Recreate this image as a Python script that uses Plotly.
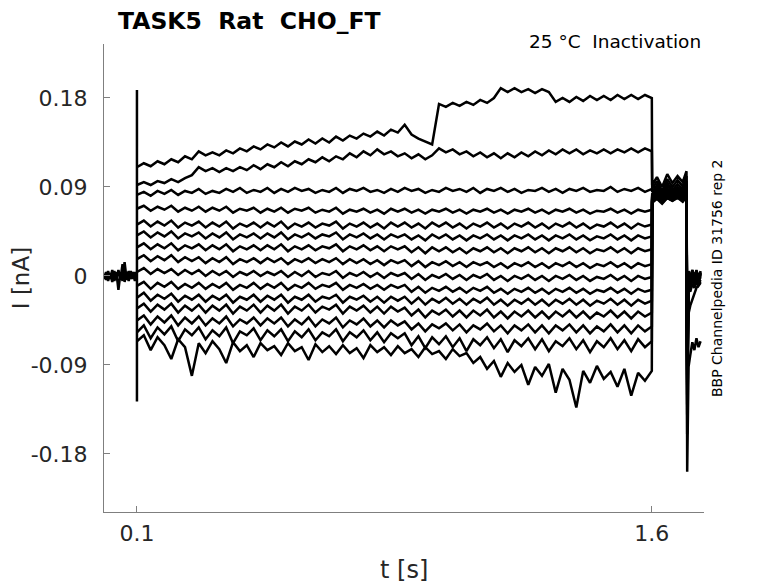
import plotly.graph_objects as go

# sample times (s)
hold_t = [0.004, 0.01, 0.016, 0.022, 0.028, 0.034, 0.04, 0.046, 0.052, 0.058,
          0.064, 0.07, 0.076, 0.082, 0.088, 0.094, 0.099]
step_t = [0.10, 0.12, 0.14, 0.16, 0.18, 0.20, 0.22, 0.24, 0.26, 0.28,
          0.30, 0.32, 0.34, 0.36, 0.38, 0.40, 0.42, 0.44, 0.46, 0.48,
          0.50, 0.52, 0.54, 0.56, 0.58, 0.60, 0.62, 0.64, 0.66, 0.68,
          0.70, 0.72, 0.74, 0.76, 0.78, 0.80, 0.82, 0.84, 0.86, 0.88,
          0.90, 0.92, 0.94, 0.96, 0.98, 1.00, 1.02, 1.04, 1.06, 1.08,
          1.10, 1.12, 1.14, 1.16, 1.18, 1.20, 1.22, 1.24, 1.26, 1.28,
          1.30, 1.32, 1.34, 1.36, 1.38, 1.40, 1.42, 1.44, 1.46, 1.48,
          1.50, 1.52, 1.54, 1.56, 1.58, 1.60]
post_t = [1.601, 1.615, 1.63, 1.645, 1.66, 1.675, 1.69, 1.701]
tail_t = [1.703, 1.707, 1.712, 1.718, 1.724, 1.73, 1.736, 1.742]

# currents in pA (converted to nA below)
hold_a = [2, -4, 5, -3, 6, -5, 4, -14, 3, -5, 14, -4, 5, -3, 4, -5, 2]
hold_b = [-3, 4, -5, 3, -6, 5, -4, 6, -3, 12, -6, 4, -5, 5, -3, 4, -2]
onset_peak = [188, -127]

sweep_01 = [110, 114, 111, 116, 113, 118, 115, 121, 118, 126,
            122, 125, 122, 127, 124, 129, 126, 131, 128, 133,
            130, 135, 131, 136, 133, 138, 134, 139, 135, 141,
            137, 142, 139, 144, 141, 146, 142, 148, 145, 153,
            143, 139, 136, 133, 174, 171, 175, 172, 176, 173,
            178, 175, 180, 190, 186, 190, 186, 189, 185, 189,
            186, 176, 180, 176, 181, 177, 182, 178, 182, 178,
            183, 179, 183, 179, 183, 180]
sweep_02 = [92, 95, 92, 96, 94, 98, 95, 99, 102, 110,
            106, 109, 105, 109, 106, 110, 107, 112, 108, 113,
            110, 115, 111, 116, 113, 118, 115, 120, 116, 121,
            118, 124, 120, 126, 122, 128, 123, 126, 121, 124,
            119, 123, 118, 122, 129, 125, 128, 123, 126, 121,
            125, 120, 124, 119, 124, 120, 125, 121, 126, 122,
            127, 123, 128, 124, 128, 123, 127, 124, 128, 124,
            128, 125, 129, 125, 129, 126]
sweep_03 = [82, 85, 81, 86, 83, 87, 82, 86, 84, 88,
            83, 86, 84, 88, 85, 89, 84, 87, 85, 89,
            84, 88, 85, 89, 86, 88, 84, 87, 85, 89,
            84, 88, 86, 89, 85, 87, 84, 88, 85, 89,
            86, 88, 84, 87, 85, 89, 86, 88, 85, 89,
            84, 88, 86, 89, 85, 88, 84, 87, 86, 89,
            85, 88, 84, 88, 86, 89, 85, 87, 86, 90,
            85, 88, 86, 89, 85, 88]
sweep_04 = [68, 71, 66, 70, 67, 71, 65, 69, 66, 70,
            65, 69, 66, 70, 64, 68, 66, 69, 64, 68,
            65, 69, 64, 68, 66, 69, 64, 67, 65, 69,
            63, 67, 65, 68, 64, 67, 63, 68, 65, 68,
            64, 67, 63, 67, 65, 68, 64, 67, 63, 67,
            65, 68, 64, 67, 63, 67, 65, 68, 64, 67,
            63, 67, 65, 68, 64, 67, 63, 66, 65, 68,
            64, 67, 63, 67, 65, 67]
sweep_05 = [52, 56, 50, 55, 51, 56, 49, 54, 51, 55,
            49, 54, 50, 55, 48, 53, 50, 54, 49, 54,
            50, 55, 48, 53, 50, 54, 49, 53, 51, 55,
            48, 53, 50, 54, 49, 53, 48, 54, 50, 54,
            49, 53, 48, 54, 50, 54, 49, 53, 48, 53,
            50, 54, 49, 53, 48, 53, 50, 54, 49, 53,
            48, 53, 50, 54, 49, 53, 48, 52, 50, 54,
            49, 53, 48, 53, 50, 52]
sweep_06 = [41, 45, 39, 44, 40, 45, 38, 43, 40, 44,
            38, 43, 39, 44, 37, 42, 39, 43, 38, 43,
            39, 44, 37, 42, 39, 43, 38, 42, 40, 44,
            37, 42, 39, 43, 38, 42, 37, 42, 39, 42,
            37, 41, 36, 42, 38, 42, 37, 41, 36, 41,
            38, 42, 37, 41, 36, 41, 38, 42, 37, 41,
            36, 41, 38, 42, 37, 41, 36, 40, 38, 42,
            37, 41, 36, 41, 38, 40]
sweep_07 = [29, 33, 27, 32, 28, 33, 26, 31, 28, 32,
            26, 31, 27, 32, 25, 30, 27, 31, 26, 31,
            27, 32, 25, 30, 27, 31, 26, 30, 28, 32,
            25, 30, 27, 31, 26, 30, 25, 30, 27, 30,
            24, 29, 23, 29, 25, 29, 24, 28, 23, 28,
            25, 29, 24, 28, 23, 28, 25, 29, 24, 28,
            23, 28, 25, 29, 24, 28, 23, 27, 25, 29,
            24, 28, 23, 28, 25, 27]
sweep_08 = [17, 21, 15, 20, 16, 21, 14, 19, 15, 19,
            13, 18, 14, 19, 12, 17, 14, 18, 13, 18,
            14, 18, 12, 17, 14, 18, 13, 17, 14, 18,
            12, 17, 13, 17, 12, 16, 11, 16, 13, 16,
            10, 15, 9, 14, 11, 15, 10, 14, 9, 14,
            11, 14, 9, 13, 8, 13, 10, 14, 9, 13,
            8, 13, 10, 14, 9, 13, 8, 12, 10, 14,
            9, 13, 8, 13, 10, 12]
sweep_09 = [4, 8, 2, 7, 3, 7, 1, 6, 2, 6,
            0, 5, 1, 5, -1, 4, 1, 5, 0, 4,
            1, 5, -1, 4, 0, 5, -1, 3, 1, 5,
            -2, 3, 0, 4, -1, 3, -2, 3, 0, 3,
            -3, 2, -4, 1, -2, 2, -3, 1, -4, 1,
            -2, 2, -4, 0, -5, 0, -3, 1, -4, 0,
            -5, 0, -3, 1, -4, 0, -5, -1, -3, 1,
            -4, 0, -5, 0, -3, -1]
sweep_10 = [-10, -6, -13, -7, -11, -6, -13, -8, -12, -7,
            -13, -8, -12, -7, -14, -9, -12, -7, -13, -8,
            -12, -7, -14, -9, -12, -7, -13, -9, -11, -7,
            -14, -9, -12, -8, -13, -9, -14, -9, -12, -9,
            -16, -11, -17, -12, -15, -11, -16, -12, -17, -12,
            -15, -11, -17, -13, -18, -13, -16, -12, -17, -13,
            -18, -13, -16, -12, -17, -13, -18, -14, -16, -12,
            -17, -13, -18, -13, -16, -14]
sweep_11 = [-22, -17, -25, -19, -23, -18, -26, -20, -24, -19,
            -26, -20, -24, -19, -27, -21, -24, -19, -26, -20,
            -24, -19, -27, -21, -24, -19, -26, -21, -23, -19,
            -27, -21, -24, -20, -26, -21, -27, -21, -25, -21,
            -28, -22, -29, -23, -27, -22, -28, -23, -29, -23,
            -27, -22, -29, -24, -30, -24, -28, -23, -29, -24,
            -30, -24, -28, -23, -29, -24, -30, -25, -28, -23,
            -29, -24, -30, -24, -28, -25]
sweep_12 = [-33, -28, -36, -29, -34, -28, -37, -30, -35, -29,
            -37, -30, -35, -29, -38, -31, -35, -29, -37, -30,
            -35, -29, -38, -31, -35, -29, -37, -31, -34, -29,
            -38, -31, -35, -30, -37, -31, -38, -31, -36, -32,
            -40, -34, -42, -35, -39, -34, -41, -35, -42, -35,
            -40, -34, -42, -36, -43, -36, -41, -35, -42, -36,
            -43, -36, -41, -35, -42, -36, -43, -37, -41, -35,
            -42, -36, -43, -36, -41, -37]
sweep_13 = [-45, -40, -49, -41, -47, -40, -50, -42, -48, -41,
            -50, -43, -48, -41, -51, -44, -48, -42, -50, -43,
            -48, -42, -51, -44, -49, -42, -51, -44, -48, -42,
            -52, -45, -49, -43, -51, -45, -52, -45, -50, -46,
            -54, -48, -56, -49, -53, -48, -55, -49, -57, -50,
            -54, -48, -56, -50, -58, -50, -55, -49, -57, -50,
            -58, -50, -55, -49, -57, -50, -58, -51, -56, -49,
            -57, -50, -58, -50, -56, -51]
sweep_14 = [-57, -50, -63, -52, -59, -51, -66, -54, -60, -52,
            -64, -55, -61, -52, -68, -56, -60, -53, -65, -55,
            -61, -54, -66, -56, -62, -54, -65, -57, -61, -54,
            -66, -57, -62, -55, -65, -57, -67, -58, -63, -58,
            -70, -61, -73, -62, -69, -61, -72, -63, -76, -64,
            -70, -62, -73, -64, -77, -65, -71, -63, -74, -64,
            -76, -66, -71, -63, -74, -65, -77, -66, -72, -63,
            -74, -65, -76, -64, -72, -66]
sweep_15 = [-66, -60, -75, -62, -70, -84, -64, -72, -101, -68,
            -78, -66, -74, -88, -67, -76, -70, -82, -68, -75,
            -71, -80, -68, -76, -72, -85, -69, -77, -71, -79,
            -70, -78, -73, -83, -70, -77, -72, -80, -71, -78,
            -74, -82, -72, -79, -76, -84, -74, -81, -78, -88,
            -82, -94, -86, -102, -88, -97, -90, -110, -92, -101,
            -89, -118, -94, -105, -133, -96, -108, -91, -104, -97,
            -112, -94, -121, -98, -106, -96]

post_01 = [92, 100, 90, 103, 94, 101, 95, 106]
post_02 = [88, 96, 86, 98, 90, 97, 91, 101]
post_03 = [85, 92, 84, 94, 87, 93, 88, 96]
post_04 = [83, 89, 82, 91, 85, 90, 86, 93]
post_05 = [81, 87, 80, 88, 83, 88, 84, 90]
post_06 = [80, 86, 79, 86, 82, 86, 82, 88]
post_07 = [79, 84, 78, 85, 81, 85, 81, 87]
post_08 = [78, 83, 77, 84, 80, 84, 80, 86]
post_09 = [77, 82, 76, 83, 79, 83, 79, 85]
post_10 = [77, 81, 76, 82, 78, 82, 78, 84]
post_11 = [76, 80, 75, 81, 78, 81, 77, 83]
post_12 = [76, 80, 75, 80, 77, 81, 77, 82]
post_13 = [75, 79, 74, 80, 77, 80, 76, 82]
post_14 = [75, 79, 74, 79, 76, 80, 76, 81]
post_15 = [74, 78, 73, 79, 76, 79, 75, 80]

tail_01 = [-60, 4, -3, 6, -2, 5, -3, 3]
tail_02 = [-70, 2, -5, 4, -3, 6, -2, 4]
tail_03 = [-75, 5, -2, 3, -4, 4, -1, 2]
tail_04 = [-80, 1, -6, 5, -2, 3, -4, 5]
tail_05 = [-85, 3, -4, 6, -1, 5, -3, 1]
tail_06 = [-90, 0, -7, 2, -5, 4, -2, 3]
tail_07 = [-95, 4, -3, 5, -4, 2, -5, 2]
tail_08 = [-100, -2, -8, 1, -6, 3, -4, 0]
tail_09 = [-105, 2, -5, 4, -3, 5, -2, 3]
tail_10 = [-110, -4, -9, -2, -7, 0, -6, -1]
tail_11 = [-120, 1, -6, 3, -4, 2, -3, 1]
tail_12 = [-130, -6, -11, -4, -9, -3, -8, -4]
tail_13 = [-140, -10, -16, -8, -12, -6, -10, -7]
tail_14 = [-160, -38, -30, -24, -16, -12, -9, -6]
tail_15 = [-198, -92, -80, -67, -75, -63, -72, -66]

sweeps = [sweep_01, sweep_02, sweep_03, sweep_04, sweep_05, sweep_06, sweep_07,
          sweep_08, sweep_09, sweep_10, sweep_11, sweep_12, sweep_13, sweep_14,
          sweep_15]
posts = [post_01, post_02, post_03, post_04, post_05, post_06, post_07, post_08,
         post_09, post_10, post_11, post_12, post_13, post_14, post_15]
tails = [tail_01, tail_02, tail_03, tail_04, tail_05, tail_06, tail_07, tail_08,
         tail_09, tail_10, tail_11, tail_12, tail_13, tail_14, tail_15]

y_ticks = [0.18, 0.09, 0, -0.09, -0.18]
y_tick_text = ["0.18", "0.09", "0", "-0.09", "-0.18"]
x_ticks = [0.1, 1.6]
x_tick_text = ["0.1", "1.6"]

AXIS_GREY = "#7f7f7f"
TEXT = "#262626"
FONT = "DejaVu Sans"
TRACE_WIDTH = 2.5


def to_nA(values):
    return [v / 1000 for v in values]


fig = go.Figure()

for hold in (hold_a, hold_b):
    fig.add_trace(
        go.Scatter(
            x=hold_t,
            y=to_nA(hold),
            mode="lines",
            line=dict(color="black", width=TRACE_WIDTH),
            showlegend=False,
            hoverinfo="skip",
        )
    )

for i, (sweep, post, tail) in enumerate(zip(sweeps, posts, tails)):
    xs = list(step_t) + post_t + tail_t
    ys = list(sweep) + post + tail
    if i == 0:
        # capacitive transient at step onset
        xs = [step_t[0], step_t[0]] + xs
        ys = onset_peak + ys
    fig.add_trace(
        go.Scatter(
            x=xs,
            y=to_nA(ys),
            mode="lines",
            line=dict(color="black", width=TRACE_WIDTH),
            showlegend=False,
            hoverinfo="skip",
        )
    )

# the page body adds an 8px margin, so the figure is 8px smaller on each axis
fig.update_layout(
    width=770,
    height=575,
    margin=dict(l=96, r=74, t=36, b=71),
    paper_bgcolor="white",
    plot_bgcolor="white",
    font=dict(family=FONT, color=TEXT),
    xaxis=dict(
        range=[0.004, 1.752],
        tickvals=x_ticks,
        ticktext=x_tick_text,
        ticks="inside",
        ticklen=6,
        tickcolor=AXIS_GREY,
        tickfont=dict(size=22, color=TEXT),
        ticklabelstandoff=2,
        showline=True,
        linecolor=AXIS_GREY,
        linewidth=1,
        showgrid=False,
        zeroline=False,
        automargin=False,
    ),
    yaxis=dict(
        range=[-0.2387, 0.2346],
        tickvals=y_ticks,
        ticktext=y_tick_text,
        ticks="inside",
        ticklen=6,
        tickcolor=AXIS_GREY,
        tickfont=dict(size=22, color=TEXT),
        ticklabelstandoff=11,
        showline=True,
        linecolor=AXIS_GREY,
        linewidth=1,
        showgrid=False,
        zeroline=False,
        automargin=False,
    ),
)

fig.add_annotation(
    text="<b>TASK5\u00a0\u00a0Rat\u00a0\u00a0CHO_FT</b>",
    xref="paper", yref="paper", x=0.0217, y=1.049,
    xanchor="left", yanchor="middle", showarrow=False, borderpad=0,
    font=dict(size=23.5, color="black", family=FONT),
)
fig.add_annotation(
    text="25\u00a0°C\u00a0\u00a0Inactivation",
    xref="paper", yref="paper", x=0.998, y=1.0064,
    xanchor="right", yanchor="middle", showarrow=False,
    font=dict(size=18.5, color="black", family=FONT),
)
fig.add_annotation(
    text="BBP Channelpedia ID 31756 rep 2",
    xref="paper", yref="paper", x=1.0217, y=0.5,
    xanchor="center", yanchor="middle", textangle=-90, showarrow=False,
    font=dict(size=14, color="black", family=FONT),
)
fig.add_annotation(
    text="t [s]",
    xref="paper", yref="paper", x=0.5, y=-0.124,
    xanchor="center", yanchor="middle", showarrow=False,
    font=dict(size=24, color=TEXT, family=FONT),
)
fig.add_annotation(
    text="I [nA]",
    xref="paper", yref="paper", x=-0.138, y=0.5,
    xanchor="center", yanchor="middle", textangle=-90, showarrow=False,
    borderpad=0,
    font=dict(size=23, color=TEXT, family=FONT),
)

fig.write_html("out.html")
